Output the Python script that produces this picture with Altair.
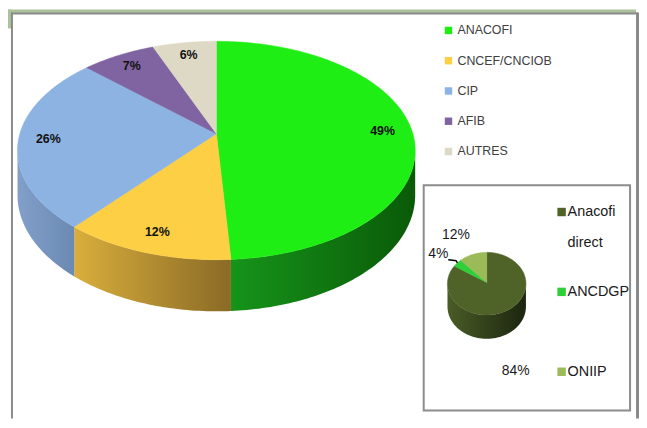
import numpy as np
import pandas as pd
import altair as alt

# ---------------- data ----------------
MAIN_CATS = ["ANACOFI", "CNCEF/CNCIOB", "CIP", "AFIB", "AUTRES"]
MAIN_VALS = [49, 12, 26, 7, 6]
MAIN_LABELS = ["49%", "12%", "26%", "7%", "6%"]

INSET_CATS = ["Anacofi direct", "ANCDGP", "ONIIP"]
INSET_VALS = [84, 4, 12]
INSET_LABELS = ["84%", "4%", "12%"]

# ---------------- style ----------------
MAIN_TOP = ["#1fee14", "#fccf45", "#8db3e2", "#8064a2", "#ddd9c4"]
MAIN_SIDE = [("#16941a", "#0a5a08"), ("#d9ae3c", "#8a6a26"), ("#829fc9", "#6b8ab3"),
             ("#5e4a7a", "#4a3a62"), ("#b5b09a", "#9a957f")]
INSET_TOP = ["#4f6228", "#2fcf3a", "#9bbb59"]
INSET_SIDE = [("#4a5c26", "#1c2510"), ("#25a02e", "#187020"), ("#7d9848", "#5d7236")]

MAIN_GEO = dict(cx=218, cy=133, rx=198, ry=107.4, D=6.47, H=44)
INSET_GEO = dict(cx=490.5, cy=283, rx=39.5, ry=31.5, D=25.0, H=23)
MAIN_LABEL_R = 0.85
INSET_LABEL_R = 1.6
INSET_NUDGE = [(-3, 42), (-2, 2), (-9, -4)]

FONT = "Liberation Sans, Arial, sans-serif"

X0, X1, Y0, Y1 = 8, 644, 8, 420
W, H = X1 - X0, Y1 - Y0


def proj(g, phi_deg, r=1.0):
    phi = np.radians(phi_deg)
    u = r * np.sin(phi)
    v = -r * np.cos(phi)
    s = g["D"] / (g["D"] - v)
    return g["cx"] + g["rx"] * u * s, g["cy"] + g["ry"] * v * s, s


def bounds(vals):
    c = np.cumsum([0] + list(vals)) / sum(vals) * 360.0
    return list(zip(c[:-1], c[1:]))


def arc(a0, a1):
    n = max(2, int(np.ceil(abs(a1 - a0))) + 1)
    return np.linspace(a0, a1, n)


def top_rows(g, cats, vals, prefix):
    rows = []
    for cat, (a0, a1) in zip(cats, bounds(vals)):
        x, y, _ = proj(g, arc(a0, a1))
        xs = [g["cx"]] + list(x) + [g["cx"]]
        ys = [g["cy"]] + list(y) + [g["cy"]]
        for i, (px_, py_) in enumerate(zip(xs, ys)):
            rows.append(dict(key=prefix + cat, x=px_, y=py_, o=i))
    return rows


def side_df(g, a0, a1):
    a = np.degrees(np.arccos(-1.0 / g["D"]))
    b0, b1 = max(a0, a), min(a1, 360 - a)
    if b1 <= b0:
        return None
    x, y, s = proj(g, arc(b0, b1))
    X = np.concatenate([x, x[::-1]])
    Y = np.concatenate([y, (y + g["H"] * s)[::-1]])
    return pd.DataFrame(dict(x=X, y=Y, o=np.arange(len(X))))


Xs = alt.X("x:Q", scale=alt.Scale(domain=[X0, X1], nice=False, zero=False), axis=None)
Ys = alt.Y("y:Q", scale=alt.Scale(domain=[Y0, Y1], nice=False, zero=False, reverse=True), axis=None)

keys = ["m:" + c for c in MAIN_CATS] + ["i:" + c for c in INSET_CATS]
FILL_SCALE = alt.Scale(domain=keys, range=MAIN_TOP + INSET_TOP)

one = pd.DataFrame({"a": [0]})


def px(v):
    return alt.value(v - X0)


def py(v):
    return alt.value(v - Y0)


def rect(x0, x1, y0, y1, **kw):
    return alt.Chart(one).mark_rect(**kw).encode(x=px(x0), x2=px(x1), y=py(y0), y2=py(y1))


layers = []
# frame
layers.append(rect(8, 641, 8, 12, color="#abc29a"))
layers.append(rect(8, 12, 8, 27, color="#abc29a"))
layers.append(rect(11, 13, 11, 420, color="#8a8a8a"))
layers.append(rect(11, 643, 11, 13, color="#8a8a8a"))
layers.append(rect(641, 644, 11, 420, color="#8a8a8a"))
layers.append(rect(427, 635, 185, 412, fill="white", stroke="#8c8c8c", strokeWidth=2))


def grad(c0, c1):
    return alt.LinearGradient(gradient="linear", x1=0, x2=1, y1=0, y2=0,
                              stops=[alt.GradientStop(color=c0, offset=0),
                                     alt.GradientStop(color=c1, offset=1)])


def add_pie(g, cats, vals, prefix, sides):
    for (a0, a1), (c0, c1) in zip(bounds(vals), sides):
        d = side_df(g, a0, a1)
        if d is None:
            continue
        layers.append(alt.Chart(d).mark_line(fill=grad(c0, c1), strokeOpacity=0).encode(
            x=Xs, y=Ys, order="o:Q"))
    td = pd.DataFrame(top_rows(g, cats, vals, prefix))
    layers.append(alt.Chart(td).mark_line(strokeWidth=0.6, strokeJoin="round").encode(
        x=Xs, y=Ys, order="o:Q",
        fill=alt.Fill("key:N", scale=FILL_SCALE, legend=None),
        stroke=alt.Stroke("key:N", scale=FILL_SCALE, legend=None)))


add_pie(MAIN_GEO, MAIN_CATS, MAIN_VALS, "m:", MAIN_SIDE)
add_pie(INSET_GEO, INSET_CATS, INSET_VALS, "i:", INSET_SIDE)

# main labels
mids = [(a0 + a1) / 2 for a0, a1 in bounds(MAIN_VALS)]
lx, ly, _ = proj(MAIN_GEO, np.array(mids), MAIN_LABEL_R)
layers.append(alt.Chart(pd.DataFrame(dict(x=lx, y=ly, t=MAIN_LABELS))).mark_text(
    font=FONT, fontSize=12.5, fontWeight="bold", color="#111111", align="center", baseline="middle"
).encode(x=Xs, y=Ys, text="t:N"))

# inset labels
imids = np.array([(a0 + a1) / 2 for a0, a1 in bounds(INSET_VALS)])
ix, iy, _ = proj(INSET_GEO, imids, INSET_LABEL_R)
ix = ix + np.array([n[0] for n in INSET_NUDGE])
iy = iy + np.array([n[1] for n in INSET_NUDGE])
layers.append(alt.Chart(pd.DataFrame(dict(x=ix, y=iy, t=INSET_LABELS))).mark_text(
    font=FONT, fontSize=14, color="#1a1a1a", align="center", baseline="middle"
).encode(x=Xs, y=Ys, text="t:N"))

# leader line for the small slice
ex, ey, _ = proj(INSET_GEO, imids[1], 1.0)
lead = pd.DataFrame(dict(x=[ix[1] + 10, ix[1] + 18, ex], y=[iy[1] + 6, iy[1] + 7, ey], o=[0, 1, 2]))
layers.append(alt.Chart(lead).mark_line(color="black", strokeWidth=1.5, interpolate="monotone").encode(
    x=Xs, y=Ys, order="o:Q"))

# main legend
LEG_X, LEG_Y, LEG_STEP = 452, 29, 30.5
leg = pd.DataFrame(dict(key=["m:" + c for c in MAIN_CATS], t=MAIN_CATS,
                        x=[LEG_X] * len(MAIN_CATS),
                        y=[LEG_Y + i * LEG_STEP for i in range(len(MAIN_CATS))]))
layers.append(alt.Chart(leg).mark_square(size=56, opacity=1).encode(
    x=Xs, y=Ys, fill=alt.Fill("key:N", scale=FILL_SCALE, legend=None)))
layers.append(alt.Chart(leg).mark_text(font=FONT, fontSize=12.5, color="#404040", align="left",
                                       baseline="middle", dx=9).encode(x=Xs, y=Ys, text="t:N"))

# inset legend
ILEG_X, ILEG_Y, ILEG_STEP, ILINE = 566, 212, 80.5, 31
ileg = pd.DataFrame(dict(key=["i:" + c for c in INSET_CATS],
                         x=[ILEG_X] * len(INSET_CATS),
                         y=[ILEG_Y + i * ILEG_STEP for i in range(len(INSET_CATS))]))
layers.append(alt.Chart(ileg).mark_square(size=72, opacity=1).encode(
    x=Xs, y=Ys, fill=alt.Fill("key:N", scale=FILL_SCALE, legend=None)))
trows = []
for i, c in enumerate(INSET_CATS):
    for k, w in enumerate(c.split(" ")):
        trows.append(dict(x=ILEG_X, y=ILEG_Y + i * ILEG_STEP + k * ILINE, t=w))
layers.append(alt.Chart(pd.DataFrame(trows)).mark_text(font=FONT, fontSize=14.5, color="#1a1a1a",
                                                       align="left", baseline="middle", dx=6).encode(
    x=Xs, y=Ys, text="t:N"))

chart = alt.layer(*layers).properties(
    width=W, height=H, padding=0, autosize=alt.AutoSizeParams(type="none")
).configure_view(stroke=None)

chart.save("out.html", embed_options={"renderer": "svg", "actions": False})
